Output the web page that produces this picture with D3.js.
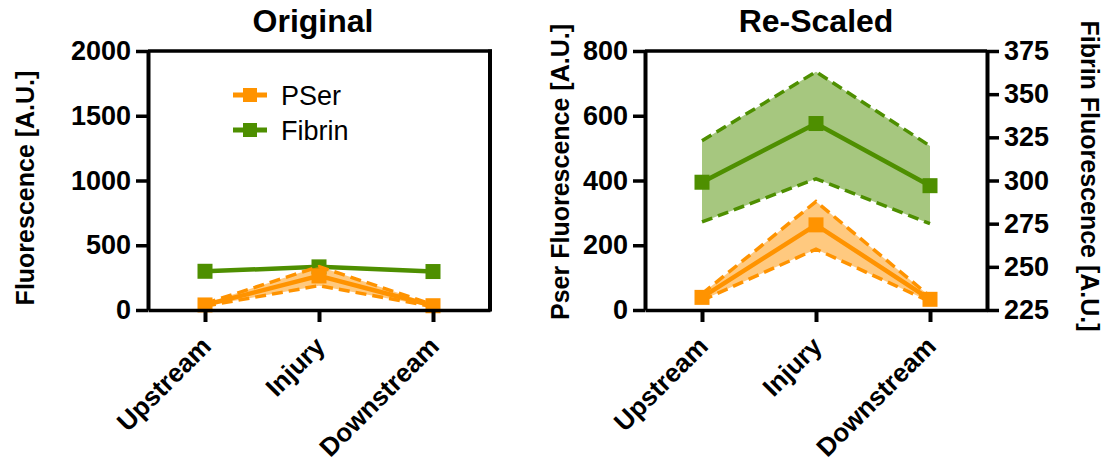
<!DOCTYPE html>
<html>
<head>
<meta charset="utf-8">
<script src="https://cdn.jsdelivr.net/npm/d3@7"></script>
<style>
  body { margin: 0; background: #fff; }
  svg { display: block; font-family: "Liberation Sans", Arial, sans-serif; }
</style>
</head>
<body>
<svg id="chart" width="1104" height="465"></svg>
<script>
const categories = ["Upstream", "Injury", "Downstream"];

// PSer fluorescence, mean and band limits
const pserMean = [39, 263, 33];
const pserUpper = [50, 335, 42];
const pserLower = [30, 188, 26];

// Fibrin fluorescence, mean and band limits
const fibrinMean = [299, 333, 297];
const fibrinUpper = [323, 363, 320];
const fibrinLower = [276, 301, 275];

const originalTicks = [0, 500, 1000, 1500, 2000];
const pserTicks = [0, 200, 400, 600, 800];
const fibrinTicks = [225, 250, 275, 300, 325, 350, 375];

const orange = "#ff9300";
const green = "#4e8f00";

const svg = d3.select("#chart");
const plotTop = 51, plotBottom = 310;
const markerSize = 15;

function styleAxis(g, vertical) {
  g.select(".domain").attr("stroke", "#000").attr("stroke-width", vertical ? 4 : 3.5);
  g.selectAll(".tick line").attr("stroke", "#000").attr("stroke-width", vertical ? 3.5 : 4);
  g.selectAll(".tick text")
    .attr("fill", "#000")
    .style("font-size", "27px")
    .style("font-weight", "bold");
}

function drawXAxis(x) {
  const g = svg.append("g")
    .attr("transform", `translate(0,${plotBottom})`)
    .call(d3.axisBottom(x).tickSize(12).tickSizeOuter(0));
  styleAxis(g, false);
  g.selectAll(".tick text")
    .attr("text-anchor", "end")
    .attr("dy", "0")
    .attr("y", 0)
    .style("font-size", "26px")
    .attr("transform", "translate(7,38) rotate(-45)");
}

function drawSeries(x, y, mean, upper, lower, color, withBand) {
  const idx = d3.range(mean.length);
  const lineFor = (vals) => d3.line()
    .x((i) => x(categories[i]))
    .y((i) => y(vals[i]));

  if (withBand) {
    const area = d3.area()
      .x((i) => x(categories[i]))
      .y0((i) => y(lower[i]))
      .y1((i) => y(upper[i]));
    svg.append("path")
      .datum(idx)
      .attr("d", area)
      .attr("fill", color)
      .attr("fill-opacity", 0.5);

    [upper, lower].forEach((vals) => {
      svg.append("path")
        .datum(idx)
        .attr("d", lineFor(vals))
        .attr("fill", "none")
        .attr("stroke", color)
        .attr("stroke-width", 3.5)
        .attr("stroke-dasharray", "11,6");
    });
  }

  svg.append("path")
    .datum(idx)
    .attr("d", lineFor(mean))
    .attr("fill", "none")
    .attr("stroke", color)
    .attr("stroke-width", 4.5);

  svg.selectAll(null)
    .data(idx)
    .join("rect")
    .attr("x", (i) => x(categories[i]) - markerSize / 2)
    .attr("y", (i) => y(mean[i]) - markerSize / 2)
    .attr("width", markerSize)
    .attr("height", markerSize)
    .attr("fill", color);
}

function frame(x0, x1, rightSide) {
  svg.append("line")
    .attr("x1", x0).attr("x2", x1 + (rightSide ? 2 : 0))
    .attr("y1", plotTop).attr("y2", plotTop)
    .attr("stroke", "#000").attr("stroke-width", 3.5);
  if (rightSide) {
    svg.append("line")
      .attr("x1", x1).attr("x2", x1)
      .attr("y1", plotTop - 1.5).attr("y2", plotBottom + 1.5)
      .attr("stroke", "#000").attr("stroke-width", 4);
  }
}

function yTitle(text, cx, cy, angle) {
  svg.append("text")
    .attr("transform", `translate(${cx},${cy}) rotate(${angle})`)
    .attr("text-anchor", "middle")
    .attr("dy", "0.36em")
    .style("font-size", "25px")
    .style("font-weight", "bold")
    .text(text);
}

function title(text, cx) {
  svg.append("text")
    .attr("x", cx).attr("y", 32)
    .attr("text-anchor", "middle")
    .style("font-size", "32px")
    .style("font-weight", "bold")
    .text(text);
}

// ---- Left panel: Original ----
const x1 = d3.scalePoint().domain(categories).range([148, 490]).padding(0.5);
const yOrig = d3.scaleLinear().domain([0, 2000]).range([plotBottom, plotTop]);

drawSeries(x1, yOrig, fibrinMean, fibrinUpper, fibrinLower, green, false);
drawSeries(x1, yOrig, pserMean, pserUpper, pserLower, orange, true);

frame(148, 490, true);
drawXAxis(x1);
const gy1 = svg.append("g")
  .attr("transform", "translate(148,0)")
  .call(d3.axisLeft(yOrig).tickValues(originalTicks).tickFormat(d3.format("d"))
    .tickSize(12).tickPadding(5).tickSizeOuter(0));
styleAxis(gy1, true);

title("Original", 313);
yTitle("Fluorescence [A.U.]", 25, 188, -90);

// legend
const legend = svg.append("g").attr("transform", "translate(233,95)");
[["PSer", orange], ["Fibrin", green]].forEach(([name, color], i) => {
  const row = legend.append("g").attr("transform", `translate(0,${i * 35})`);
  row.append("line")
    .attr("x1", 0).attr("x2", 34)
    .attr("stroke", color).attr("stroke-width", 5);
  row.append("rect")
    .attr("x", 17 - 7).attr("y", -7)
    .attr("width", 14).attr("height", 14)
    .attr("fill", color);
  row.append("text")
    .attr("x", 48).attr("dy", "0.36em")
    .style("font-size", "27px")
    .text(name);
});

// ---- Right panel: Re-Scaled ----
const x2 = d3.scalePoint().domain(categories).range([645, 987]).padding(0.5);
const yPser = d3.scaleLinear().domain([0, 800]).range([plotBottom, plotTop]);
const yFibrin = d3.scaleLinear().domain([225, 375]).range([plotBottom, plotTop]);

drawSeries(x2, yFibrin, fibrinMean, fibrinUpper, fibrinLower, green, true);
drawSeries(x2, yPser, pserMean, pserUpper, pserLower, orange, true);

frame(645, 987, false);
drawXAxis(x2);
const gy2 = svg.append("g")
  .attr("transform", "translate(645,0)")
  .call(d3.axisLeft(yPser).tickValues(pserTicks).tickSize(12).tickPadding(5).tickSizeOuter(0));
styleAxis(gy2, true);
const gy3 = svg.append("g")
  .attr("transform", "translate(987,0)")
  .call(d3.axisRight(yFibrin).tickValues(fibrinTicks).tickSize(12).tickPadding(5).tickSizeOuter(0));
styleAxis(gy3, true);

title("Re-Scaled", 816);
yTitle("Pser Fluorescence [A.U.]", 560, 172, -90);
yTitle("Fibrin Fluorescence [A.U.]", 1090, 176, 90);
</script>
</body>
</html>
